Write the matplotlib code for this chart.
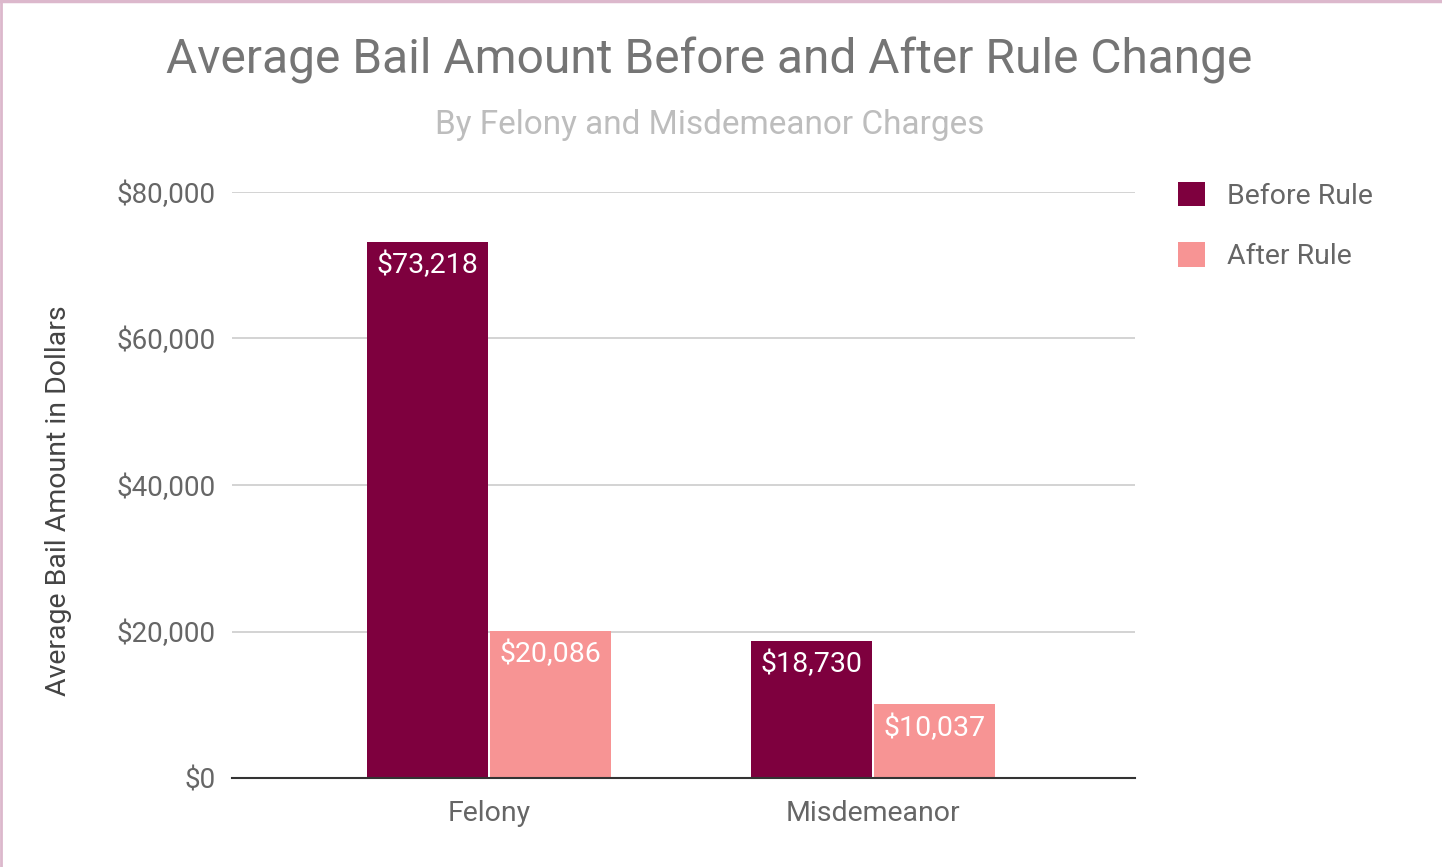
import matplotlib.pyplot as plt
import numpy as np
from matplotlib.ticker import FuncFormatter

categories = ['Felony', 'Misdemeanor']
before_rule = [73218, 18730]
after_rule = [20086, 10037]
series_names = ['Before Rule', 'After Rule']

plt.rcParams['font.family'] = ['Roboto', 'DejaVu Sans']

c_before = '#7e003e'
c_after = '#f79494'

fig = plt.figure(figsize=(14.42, 8.67), dpi=100)
ax = fig.add_axes([232 / 1442, 1 - 778 / 867, 903 / 1442, (778 - 192) / 867])

x = np.arange(len(categories))
w = 0.315
b1 = ax.bar(x - w / 2 - 0.003, before_rule, w, color=c_before, label=series_names[0])
b2 = ax.bar(x + w / 2 + 0.003, after_rule, w, color=c_after, label=series_names[1])

for bars in (b1, b2):
    for r in bars:
        v = r.get_height()
        ax.annotate('${:,.0f}'.format(v), (r.get_x() + r.get_width() / 2, v),
                    xytext=(0, -7), textcoords='offset points', ha='center', va='top',
                    color='white', fontsize=20.5)

ax.set_xlim(-0.669, 1.683)
ax.set_ylim(0, 80000)
ax.set_yticks([0, 20000, 40000, 60000, 80000])
ax.yaxis.set_major_formatter(FuncFormatter(lambda v, p: '${:,.0f}'.format(v)))
ax.set_xticks(x)
ax.set_xticklabels(categories)
ax.tick_params(axis='y', length=0, labelsize=20, labelcolor='#666666', pad=11.5)
ax.tick_params(axis='x', length=0, labelsize=20.5, labelcolor='#666666', pad=16)
ax.grid(axis='y', color='#cccccc', linewidth=1.2)
ax.set_axisbelow(True)
for s in ['top', 'right', 'left']:
    ax.spines[s].set_visible(False)
ax.spines['bottom'].set_color('#333333')
ax.spines['bottom'].set_linewidth(1.5)
ax.set_ylabel('Average Bail Amount in Dollars', fontsize=20.5, color='#444444', labelpad=32)
ax.yaxis.label.set_y(0.473)

fig.text(0.492, 1 - 60 / 867, 'Average Bail Amount Before and After Rule Change',
         ha='center', va='center', fontsize=34.5, color='#757575')
fig.text(0.4925, 1 - 125 / 867, 'By Felony and Misdemeanor Charges',
         ha='center', va='center', fontsize=24, color='#bdbdbd')

leg = fig.legend(loc='upper left', bbox_to_anchor=(1152 / 1442, 1 - 156 / 867),
                 frameon=False, fontsize=20.5, labelcolor='#666666',
                 handlelength=0.95, handleheight=0.95, handletextpad=0.8, labelspacing=1.15)

# pink frame on top and left edges
fig.add_artist(plt.Line2D([0, 1], [0.9985, 0.9985], transform=fig.transFigure,
                          color='#dcb8cc', linewidth=2.5))
fig.add_artist(plt.Line2D([0.0008, 0.0008], [0, 1], transform=fig.transFigure,
                          color='#dcb8cc', linewidth=2))

fig.savefig('out.png', dpi=100)
